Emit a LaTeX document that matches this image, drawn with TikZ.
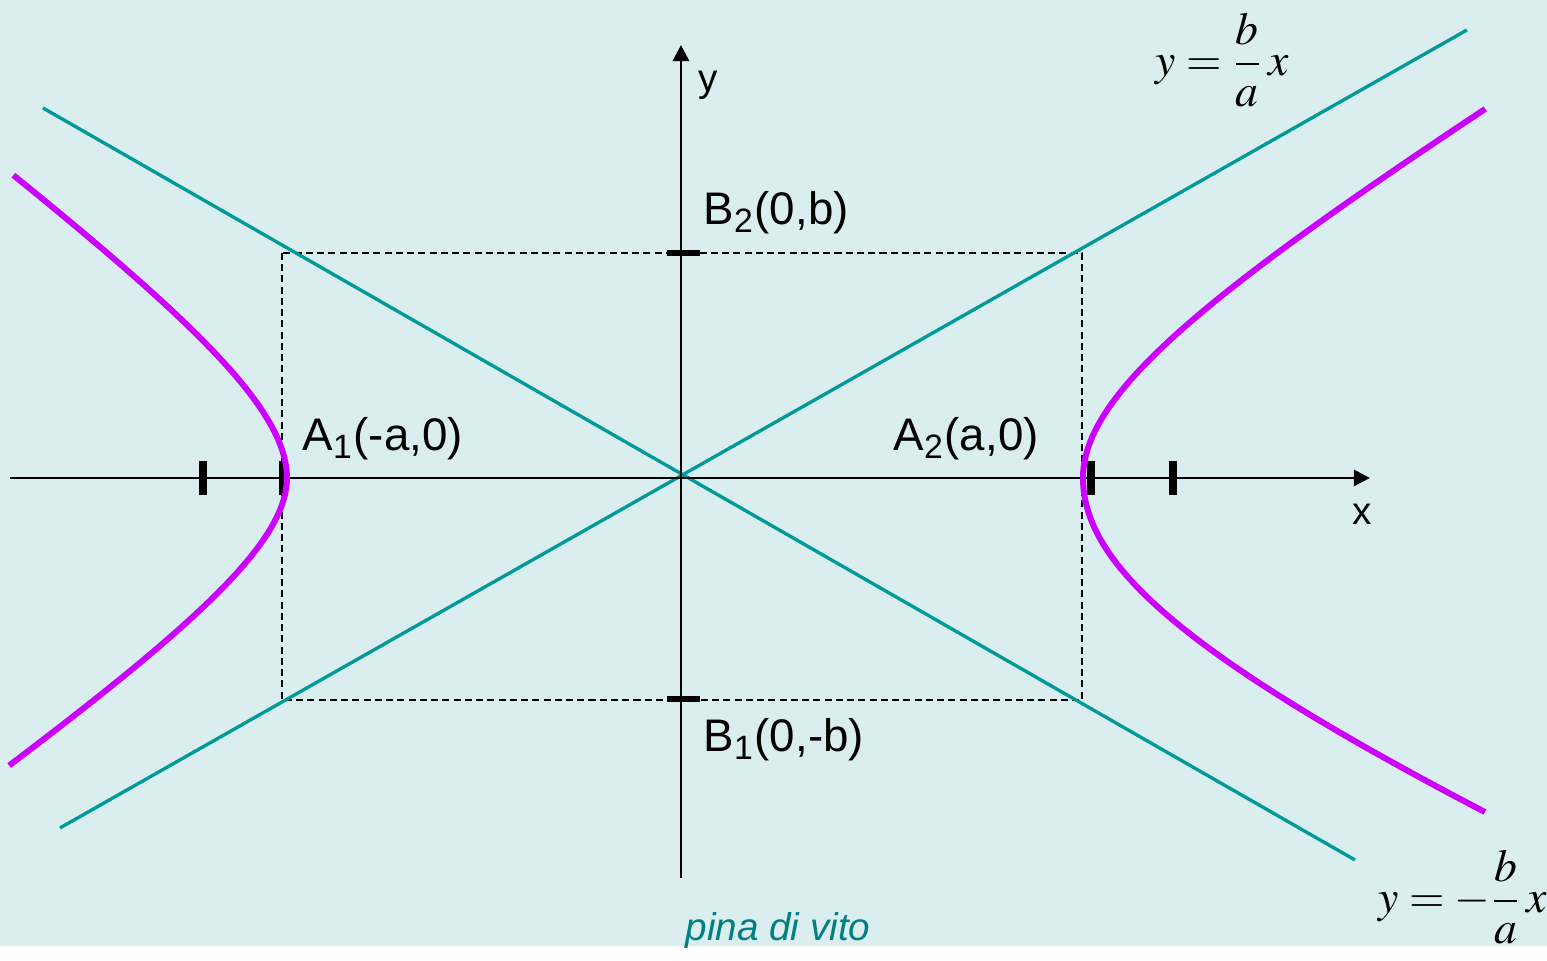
\documentclass[tikz,border=0pt]{standalone}
\usepackage{amsmath}
\usepackage{mathptmx}
\usepackage[no-math]{fontspec}
\setmainfont{Liberation Sans}
\usetikzlibrary{arrows.meta}
\definecolor{sfondo}{HTML}{DAEEF0}
\definecolor{asintoto}{HTML}{009A9A}
\definecolor{iperbole}{HTML}{CC00FF}
\definecolor{firma}{HTML}{008080}

\begin{document}
\begin{tikzpicture}[
  asse/.style={line width=0.8pt, -{Triangle[length=4.6pt,width=4.6pt]}},
  tacca/.style={line width=2.2pt},
  ramo/.style={iperbole, line width=1.7pt, samples=50, variable=\t},
  etichetta/.style={font=\fontsize{13}{15}\selectfont, inner sep=0pt, anchor=base west},
  formula/.style={font=\fontsize{13}{15}\selectfont, inner sep=0pt, anchor=west}
]
  % Sfondo
  \fill[sfondo] (-6.81,-4.68) rectangle (8.66,4.78);
  \coordinate (O) at (0,0);
  % Rettangolo fondamentale
  \coordinate (R1) at (-3.99,2.25);
  \coordinate (R2) at (4.01,-2.22);
  \draw[dashed, line width=0.6pt, dash pattern=on 2pt off 1.2pt] (R1) rectangle (R2);
  % Asintoti
  \coordinate (P1) at (-6.38,3.70);
  \coordinate (P2) at (6.74,-3.82);
  \coordinate (Q1) at (-6.21,-3.50);
  \coordinate (Q2) at (7.86,4.48);
  \draw[asintoto, line width=0.95pt] (P1) -- (P2);
  \draw[asintoto, line width=0.95pt] (Q1) -- (Q2);
  % Assi
  \coordinate (Xs) at (-6.71,0);
  \coordinate (Xe) at (6.89,0);
  \coordinate (Ys) at (0,-4.00);
  \coordinate (Ye) at (0,4.33);
  \draw[asse] (Xs) -- (Xe);
  \draw[asse] (Ys) -- (Ye);
  \node[font=\fontsize{11}{13}\selectfont] (xl) at (6.81,-0.36) {x};
  \node[font=\fontsize{11}{13}\selectfont] (yl) at (0.27,3.93) {y};
  % Fuochi e vertici (tacche)
  \foreach \xx in {-4.78,-3.98,4.10,4.92}
    \draw[tacca] (\xx,-0.17) -- (\xx,0.17);
  \coordinate (B2) at (0,2.25);
  \coordinate (B1) at (0,-2.21);
  \draw[tacca, line width=1.7pt] ([xshift=-0.14cm]B2) -- ([xshift=0.19cm]B2);
  \draw[tacca, line width=1.7pt] ([xshift=-0.14cm]B1) -- ([xshift=0.19cm]B1);
  % Iperbole: ramo destro
  \draw[ramo] plot[domain=-1.317:0] ({4.02*cosh(\t)}, {(2.1+0.13*\t)*sinh(\t)})
    -- plot[domain=0:1.318] ({4.02*cosh(\t)}, {(1.857+0.207*\t)*sinh(\t)});
  % Iperbole: ramo sinistro
  \draw[ramo] plot[domain=-1.127:0] ({-3.94*cosh(\t)}, {(1.62-0.41*\t)*sinh(\t)})
    -- plot[domain=0:1.12] ({-3.94*cosh(\t)}, {(1.71+0.45*\t)*sinh(\t)});
  % Etichette
  \node[etichetta] (lB2) at (0.22,2.53) {B\textsubscript{2}(0,b)};
  \node[etichetta] (lB1) at (0.22,-2.74) {B\textsubscript{1}(0,-b)};
  \node[etichetta] (lA1) at (-3.79,0.27) {A\textsubscript{1}(-a,0)};
  \node[etichetta] (lA2) at (2.12,0.27) {A\textsubscript{2}(a,0)};
  \node[formula] (eq1) at (4.74,4.18) {$y=\dfrac{b}{a}\,x$};
  \node[formula] (eq2) at (6.97,-4.19) {$y=-\dfrac{b}{a}\,x$};
  % Firma
  \node[firma, font=\fontsize{11}{13}\selectfont\itshape] (firma) at (0.97,-4.53) {pina di vito};
  \useasboundingbox (-6.81,-4.68) rectangle (8.66,4.78);
\end{tikzpicture}
\end{document}
